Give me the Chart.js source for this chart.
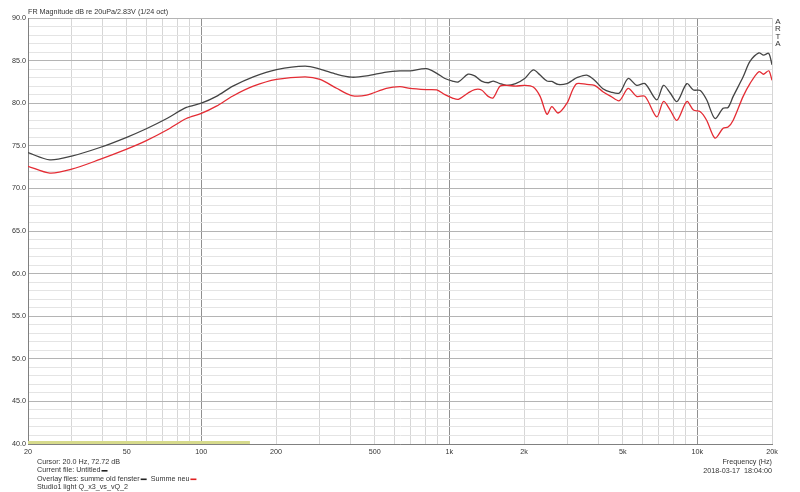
<!DOCTYPE html>
<html lang="de">
<head>
  <meta charset="UTF-8" />
  <title>FR Magnitude</title>
  <script src="https://cdn.jsdelivr.net/npm/chart.js"></script>
  <style>
    html, body { margin: 0; padding: 0; background: #fff; }
    #wrap { width: 800px; height: 492px; position: relative; }
  </style>
</head>
<body>
  <div id="wrap"><canvas id="fr"></canvas></div>

  <script>
    // frequency points (Hz), shared by both curves
    const freqs = [20, 24.5, 30, 39, 50, 60, 72.6, 87, 100, 115, 134, 162, 201, 262, 301, 351, 404, 464, 557, 632, 694, 808, 890, 960,
      1030, 1088, 1190, 1266, 1348, 1434, 1504, 1600, 1705, 1850, 2012, 2180, 2323, 2475, 2590, 2745, 2980, 3140, 3268, 3580, 3850,
      4160, 4480, 4850, 5260, 5690, 6150, 6860, 7300, 7770, 8280, 9070, 9640, 10280, 10900, 11780, 12700, 13300, 13950, 15300,
      16300, 17700, 18500, 19400, 20000];
    // "summe old fenster" (black)
    const summeOld = [74.2, 73.35, 73.8, 74.8, 76.0, 77.0, 78.2, 79.5, 80.0, 80.8, 82.0, 83.1, 83.95, 84.35, 84.0, 83.4, 83.05, 83.2, 83.65, 83.8, 83.8, 84.05, 83.5, 82.9,
      82.6, 82.5, 83.4, 83.2, 82.6, 82.4, 82.6, 82.3, 82.1, 82.3, 82.9, 83.9, 83.3, 82.6, 82.55, 82.2, 82.3, 82.7, 83.0, 83.3, 82.7,
      81.7, 81.3, 81.2, 82.9, 82.1, 82.3, 80.4, 82.1, 81.2, 80.2, 82.3, 81.55, 81.5, 80.4, 78.2, 79.4, 79.5, 80.8, 83.1,
      84.9, 85.9, 85.65, 85.85, 84.5];
    // "Summe neu" (red)
    const summeNeu = [72.6, 71.8, 72.25, 73.4, 74.6, 75.6, 76.85, 78.2, 78.8, 79.65, 80.85, 82.0, 82.8, 83.1, 82.8, 81.75, 80.9, 80.95, 81.75, 81.95, 81.75, 81.6, 81.55, 81.0,
      80.6, 80.45, 81.2, 81.6, 81.55, 80.8, 80.65, 82.0, 82.1, 82.0, 82.1, 81.9, 80.8, 78.7, 79.6, 78.85, 80.0, 81.55, 82.3, 82.2, 82.1,
      81.35, 80.8, 80.3, 81.75, 80.8, 80.8, 78.4, 80.2, 79.2, 78.0, 80.2, 79.2, 79.0, 78.0, 75.9, 77.05, 77.2, 78.0, 80.8,
      82.3, 83.7, 83.4, 83.8, 82.7];
    // cursor range bar at the bottom
    const rangeFreqs = [20, 157];
    const rangeLevels = [40, 40];

    const xGrid = [20, 30, 40, 50, 60, 70, 80, 90, 100, 200, 300, 400, 500, 600, 700, 800, 900,
      1000, 2000, 3000, 4000, 5000, 6000, 7000, 8000, 9000, 10000, 20000];
    const xLabels = { 20: '20', 50: '50', 100: '100', 200: '200', 500: '500', 1000: '1k', 2000: '2k', 5000: '5k', 10000: '10k', 20000: '20k' };
    const decades = [100, 1000, 10000];

    const toPts = (xs, ys) => xs.map((f, i) => ({ x: f, y: ys[i] }));

    const FONT = 'Liberation Sans, Arial, sans-serif';

    const textPlugin = {
      id: 'artaText',
      afterDraw(chart) {
        const c = chart.ctx;
        const a = chart.chartArea;
        c.save();
        c.fillStyle = '#333';
        c.font = '7.2px ' + FONT;
        c.textBaseline = 'middle';
        c.textAlign = 'left';
        c.fillText('FR Magnitude dB re 20uPa/2.83V (1/24 oct)', a.left, 12);

        c.fillText('Cursor: 20.0 Hz, 72.72 dB', 37, 462);
        c.fillText('Current file: Untitled', 37, 470.5);
        let w = c.measureText('Current file: Untitled').width;
        c.fillStyle = '#222';
        c.fillRect(37 + w + 1, 470, 6, 1.6);
        c.fillStyle = '#333';
        const ov = 'Overlay files: summe old fenster';
        c.fillText(ov, 37, 479);
        w = c.measureText(ov).width;
        c.fillStyle = '#222';
        c.fillRect(37 + w + 1, 478.5, 6, 1.6);
        c.fillStyle = '#333';
        const x2 = 37 + w + 11;
        c.fillText('Summe neu', x2, 479);
        const w2 = c.measureText('Summe neu').width;
        c.fillStyle = '#e02020';
        c.fillRect(x2 + w2 + 1, 478.5, 6, 1.6);
        c.fillStyle = '#333';
        c.fillText('Studio1 light Q_x3_vs_vQ_2', 37, 487.5);

        c.textAlign = 'right';
        c.fillText('Frequency (Hz)', a.right, 462);
        c.fillText('2018-03-17  18:04:00', a.right, 471);

        c.textAlign = 'center';
        c.font = '8px ' + FONT;
        ['A', 'R', 'T', 'A'].forEach((ch, i) => c.fillText(ch, 778, 22 + i * 7.2));
        c.restore();
      }
    };

    new Chart(document.getElementById('fr'), {
      type: 'line',
      data: {
        datasets: [
          {
            label: 'Summe neu',
            data: toPts(freqs, summeNeu),
            borderColor: '#e42c34',
            borderWidth: 1.3,
            pointRadius: 0,
            tension: 0.3,
            fill: false
          },
          {
            label: 'summe old fenster',
            data: toPts(freqs, summeOld),
            borderColor: '#444444',
            borderWidth: 1.3,
            pointRadius: 0,
            tension: 0.3,
            fill: false
          },
          {
            label: 'range',
            data: toPts(rangeFreqs, rangeLevels),
            borderColor: '#d6da8c',
            borderWidth: 6,
            pointRadius: 0,
            fill: false
          }
        ]
      },
      options: {
        responsive: true,
        maintainAspectRatio: false,
        animation: false,
        layout: { padding: { top: 18, right: 28, bottom: 0, left: 0 } },
        plugins: {
          legend: { display: false },
          tooltip: { enabled: false }
        },
        scales: {
          x: {
            type: 'logarithmic',
            min: 20,
            max: 20000,
            afterBuildTicks: s => { s.ticks = xGrid.map(v => ({ value: v })); },
            afterFit: s => { s.height = 48; },
            ticks: {
              autoSkip: false,
              maxRotation: 0,
              padding: 4,
              color: '#333',
              font: { size: 7.2, family: FONT },
              callback: v => xLabels[v] || ''
            },
            grid: {
              drawTicks: false,
              color: ctx => ctx.tick && decades.includes(ctx.tick.value) ? '#909090' : '#d6d6d6',
              lineWidth: 1
            },
            border: { color: '#808080', width: 1 }
          },
          y: {
            min: 40,
            max: 90,
            afterBuildTicks: s => {
              const t = [];
              for (let v = 40; v <= 90; v++) t.push({ value: v });
              s.ticks = t;
            },
            afterFit: s => { s.width = 28; },
            ticks: {
              autoSkip: false,
              padding: 2,
              color: '#333',
              font: { size: 7.2, family: FONT },
              callback: v => v % 5 === 0 ? v.toFixed(1) : ''
            },
            grid: {
              drawTicks: false,
              color: ctx => ctx.tick && ctx.tick.value % 5 === 0 ? '#b4b4b4' : '#e4e4e4',
              lineWidth: 1
            },
            border: { color: '#808080', width: 1 }
          }
        }
      },
      plugins: [textPlugin]
    });
  </script>
</body>
</html>
